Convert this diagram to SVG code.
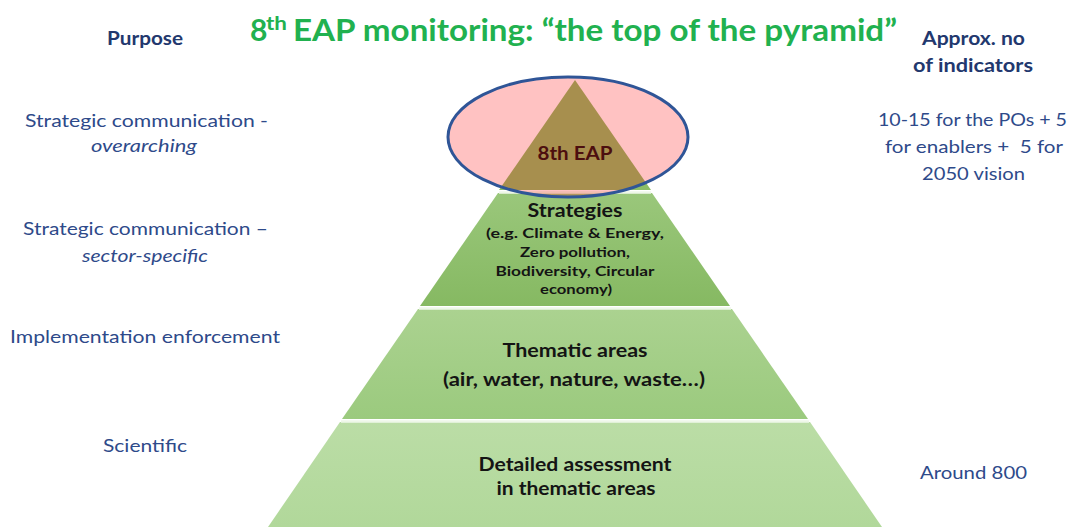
<svg xmlns="http://www.w3.org/2000/svg" width="1072" height="527" viewBox="0 0 1072 527">
<defs>
<linearGradient id="gStrat" x1="0" y1="0" x2="0" y2="1"><stop offset="0" stop-color="#9AC77B"/><stop offset="1" stop-color="#86B962"/></linearGradient>
<linearGradient id="gThem" x1="0" y1="0" x2="0" y2="1"><stop offset="0" stop-color="#ABD290"/><stop offset="1" stop-color="#9BCA7E"/></linearGradient>
<linearGradient id="gDet" x1="0" y1="0" x2="0" y2="1"><stop offset="0" stop-color="#BBDDA6"/><stop offset="1" stop-color="#B1D89A"/></linearGradient>
</defs>
<style>
.lbl{font-family:Lato,"Liberation Sans",sans-serif;font-size:18px;fill:#2E4A8A}
.hdr{font-family:Lato,"Liberation Sans",sans-serif;font-size:18px;font-weight:bold;fill:#22386E}
.it{font-style:italic}
.title{font-family:Lato,"Liberation Sans",sans-serif;font-size:30px;font-weight:bold;fill:#21B14F}
.tier{font-family:Lato,"Liberation Sans",sans-serif;font-weight:bold;fill:#141414;text-anchor:middle}
.sep{stroke:#EEF7E8;stroke-width:2.5;fill:none}
</style>
<rect width="1072" height="527" fill="#FFFFFF"/>

<g id="title">
<text class="title" y="41"><tspan x="250">8</tspan><tspan x="266" y="30" font-size="18" textLength="21" lengthAdjust="spacingAndGlyphs">th</tspan><tspan x="293" y="41" textLength="604" lengthAdjust="spacingAndGlyphs">EAP monitoring: “the top of the pyramid”</tspan></text>
</g>

<g id="header-purpose">
<text class="hdr" x="107" y="45" textLength="76" lengthAdjust="spacingAndGlyphs">Purpose</text>
</g>
<g id="header-indicators">
<text class="hdr" x="922" y="45" textLength="103" lengthAdjust="spacingAndGlyphs">Approx. no</text>
<text class="hdr" x="913" y="72" textLength="120" lengthAdjust="spacingAndGlyphs">of indicators</text>
</g>

<g id="purpose-overarching">
<text class="lbl" x="25" y="127" textLength="243" lengthAdjust="spacingAndGlyphs">Strategic communication -</text>
<text class="lbl it" x="91" y="152" textLength="106" lengthAdjust="spacingAndGlyphs">overarching</text>
</g>
<g id="purpose-sector">
<text class="lbl" x="23" y="235" textLength="245" lengthAdjust="spacingAndGlyphs">Strategic communication –</text>
<text class="lbl it" x="82" y="262" textLength="126" lengthAdjust="spacingAndGlyphs">sector-specific</text>
</g>
<g id="purpose-implementation">
<text class="lbl" x="10" y="343" textLength="270" lengthAdjust="spacingAndGlyphs">Implementation enforcement</text>
</g>
<g id="purpose-scientific">
<text class="lbl" x="103" y="452" textLength="84" lengthAdjust="spacingAndGlyphs">Scientific</text>
</g>

<g id="count-top">
<text class="lbl" x="878" y="126" textLength="189" lengthAdjust="spacingAndGlyphs">10-15 for the POs + 5</text>
<text class="lbl" x="885" y="153" textLength="178" lengthAdjust="spacingAndGlyphs" xml:space="preserve">for enablers +  5 for</text>
<text class="lbl" x="922" y="180" textLength="103" lengthAdjust="spacingAndGlyphs">2050 vision</text>
</g>
<g id="count-bottom">
<text class="lbl" x="920" y="479" textLength="107" lengthAdjust="spacingAndGlyphs">Around 800</text>
</g>

<g id="tier-detailed">
<polygon points="340,422 810,422 882,527 268,527" fill="url(#gDet)"/>
<line class="sep" x1="341" y1="421.5" x2="809" y2="421.5"/>
<text class="tier" x="575" y="471" font-size="18" textLength="193" lengthAdjust="spacingAndGlyphs">Detailed assessment</text>
<text class="tier" x="576" y="495" font-size="18" textLength="159" lengthAdjust="spacingAndGlyphs">in thematic areas</text>
</g>

<g id="tier-thematic">
<polygon points="418,309 732,309 808,419 342,419" fill="url(#gThem)"/>
<line class="sep" x1="419" y1="308.5" x2="731" y2="308.5"/>
<text class="tier" x="575" y="357" font-size="18" textLength="145" lengthAdjust="spacingAndGlyphs">Thematic areas</text>
<text class="tier" x="574" y="386" font-size="18" textLength="262" lengthAdjust="spacingAndGlyphs">(air, water, nature, waste…)</text>
</g>

<g id="tier-strategies">
<polygon points="498,193 652,193 730,306 420,306" fill="url(#gStrat)"/>
<line class="sep" x1="499" y1="192.5" x2="651" y2="192.5"/>
<text class="tier" x="575" y="217" font-size="18" textLength="95" lengthAdjust="spacingAndGlyphs">Strategies</text>
<text class="tier" x="575" y="238" font-size="14" textLength="178" lengthAdjust="spacingAndGlyphs">(e.g. Climate &amp; Energy,</text>
<text class="tier" x="575" y="257" font-size="14" textLength="110" lengthAdjust="spacingAndGlyphs">Zero pollution,</text>
<text class="tier" x="575" y="276" font-size="14" textLength="159" lengthAdjust="spacingAndGlyphs">Biodiversity, Circular</text>
<text class="tier" x="576" y="294" font-size="14" textLength="72" lengthAdjust="spacingAndGlyphs">economy)</text>
</g>

<g id="tier-8th-eap">
<polygon points="575,80 651,190 499,190" fill="#8CBD67"/>
<text class="tier" x="575" y="160" font-size="19" textLength="75" lengthAdjust="spacingAndGlyphs">8th EAP</text>
<ellipse cx="568" cy="137" rx="120" ry="60" fill="#FF0000" fill-opacity="0.24" stroke="#2F5597" stroke-width="3"/>
</g>
</svg>
